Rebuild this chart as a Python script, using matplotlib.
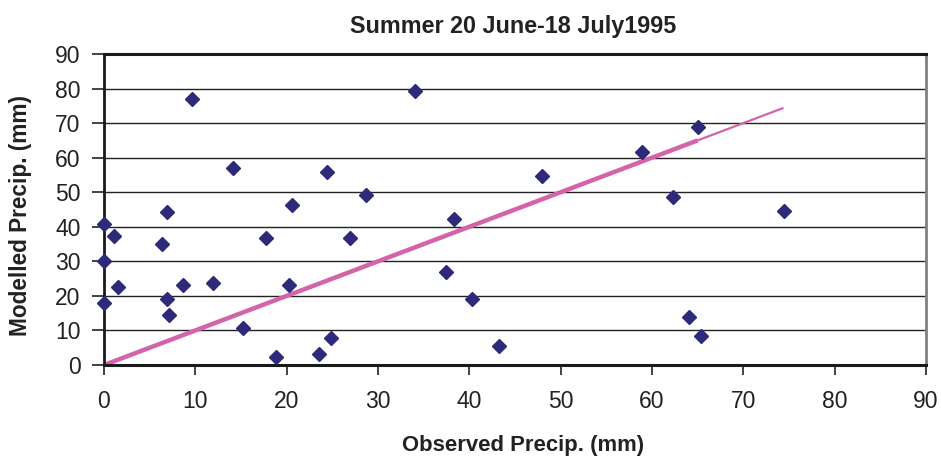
import matplotlib.pyplot as plt

plt.rcParams["font.family"] = ["Liberation Sans", "DejaVu Sans"]

# 观测值与模拟值 (mm)
observed = [0, 0, 0, 1.1, 1.5, 9.6, 6.4, 6.9, 6.9, 7.1, 8.7, 11.9, 14.1, 15.2,
            17.7, 20.6, 20.3, 18.8, 23.5, 24.4, 24.8, 26.9, 28.7, 34.1, 38.3,
            37.4, 40.3, 43.3, 48.0, 58.9, 65.0, 62.3, 64.1, 65.4, 74.4]
modelled = [40.9, 30.2, 17.9, 37.3, 22.7, 77.0, 35.0, 44.4, 19.0, 14.4, 23.2,
            23.8, 56.9, 10.7, 36.7, 46.3, 23.2, 2.4, 3.1, 55.8, 7.7, 36.8, 49.3,
            79.4, 42.2, 26.8, 19.0, 5.5, 54.6, 61.7, 68.8, 48.7, 13.8, 8.4, 44.5]

# 1:1 参考线 (粗段终点、细段终点)
line_thick_end = 65.0
line_thin_end = max(observed)

ticks = list(range(0, 100, 10))

TITLE = "Summer 20 June-18 July1995"
XLABEL = "Observed Precip. (mm)"
YLABEL = "Modelled Precip. (mm)"


def main():
    fig = plt.figure(figsize=(9.41, 4.57), dpi=100)
    ax = fig.add_axes([104 / 941, 92 / 457, 822 / 941, 311 / 457])

    ax.set_xlim(0, 90)
    ax.set_ylim(0, 90)
    ax.set_xticks(ticks)
    ax.set_yticks(ticks)
    ax.tick_params(axis="x", direction="out", length=7, width=1.2,
                   labelsize=16.5, pad=11, colors="#222222")
    ax.tick_params(axis="y", direction="out", length=9, width=1.2,
                   labelsize=16.5, pad=8, colors="#222222")

    for y in ticks[1:-1]:
        ax.axhline(y, color="#222222", lw=1.0, zorder=1)

    ax.spines["top"].set_linewidth(2.2)
    ax.spines["top"].set_color("#1a1a1a")
    ax.spines["bottom"].set_linewidth(2.2)
    ax.spines["bottom"].set_color("#1a1a1a")
    ax.spines["left"].set_linewidth(2.0)
    ax.spines["left"].set_color("#1a1a1a")
    ax.spines["right"].set_linewidth(2.0)
    ax.spines["right"].set_color("#808080")

    ax.plot([0, line_thin_end], [0, line_thin_end], color="#D464AA",
            lw=1.6, zorder=2, solid_capstyle="butt")
    ax.plot([0, line_thick_end], [0, line_thick_end], color="#D464AA",
            lw=3.2, zorder=2, solid_capstyle="butt")

    ax.plot(observed, modelled, linestyle="none", marker="D", markersize=7.4,
            color="#2D2A7A", markeredgecolor="#2D2A7A", zorder=3, clip_on=False)

    fig.text(513 / 941, 1 - 26 / 457, TITLE, ha="center", va="center",
             fontsize=16.8, fontweight="bold", color="#222222")
    fig.text(523 / 941, 1 - 445 / 457, XLABEL, ha="center", va="center",
             fontsize=15.9, fontweight="bold", color="#222222")
    fig.text(21 / 941, 1 - 216 / 457, YLABEL, ha="center", va="center",
             rotation=90, fontsize=16.3, fontweight="bold", color="#222222")

    fig.savefig("out.png", dpi=100)
    plt.close(fig)


if __name__ == "__main__":
    main()
